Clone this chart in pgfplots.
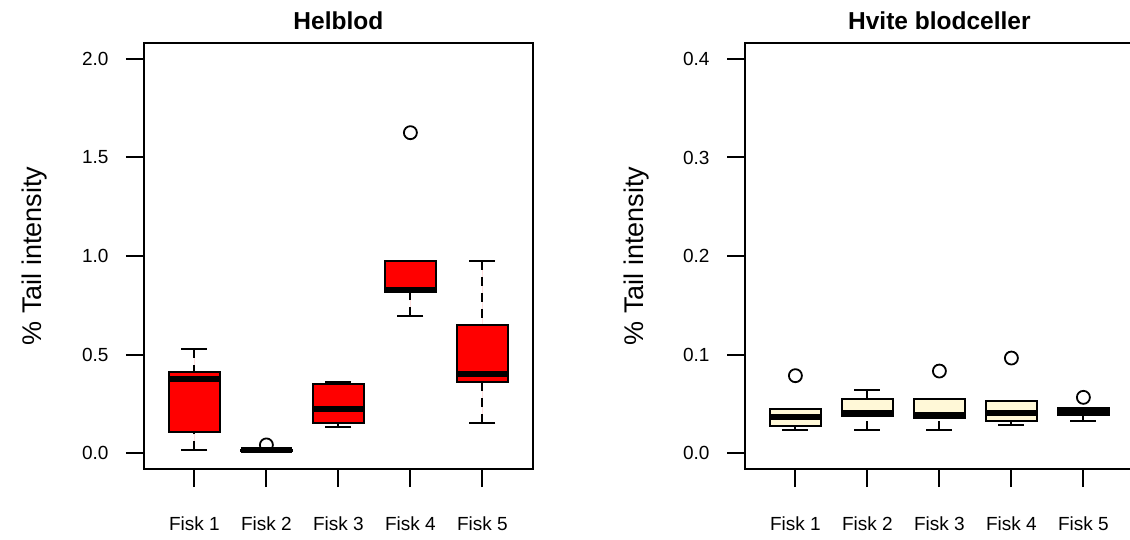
\documentclass[border=0pt]{standalone}
\usepackage{fontspec}
\setmainfont{Liberation Sans}
\usepackage{pgfplots}
\pgfplotsset{compat=1.18}
\usepgfplotslibrary{statistics}

\definecolor{boxred}{RGB}{255,0,0}
\definecolor{boxcream}{RGB}{255,248,215}

\pgfplotsset{
  rbox/.style={
    scale only axis,
    width=388.8pt, height=426pt,
    xmin=0.3, xmax=5.7,
    axis line style={line width=2pt},
    every tick/.style={black, line width=2pt},
    tick align=outside,
    major tick length=18pt,
    xtick={1,2,3,4,5},
    xticklabels={Fisk 1,Fisk 2,Fisk 3,Fisk 4,Fisk 5},
    xtick pos=bottom, ytick pos=left,
    /pgf/number format/assume math mode=true,
    /pgf/number format/.cd, fixed, fixed zerofill, precision=1, /pgfplots/.cd,
    tick label style={font=\fontsize{19}{22}\selectfont},
    xticklabel style={anchor=base, yshift=-43pt},
    yticklabel style={anchor=east, xshift=-14pt},
    every axis y label/.style={at={(rel axis cs:0,0.5)}, xshift=-102pt, rotate=90, anchor=base,
      font=\fontsize{27}{30}\selectfont},
    ylabel={\% Tail intensity},
    every axis title/.style={at={(rel axis cs:0.5,1)}, anchor=base, yshift=13pt,
      font=\fontsize{24.5}{28}\selectfont\bfseries},
    boxplot/draw direction=y,
    boxplot/box extend=0.7,
    boxplot/whisker extend=0.36,
    boxplot/every box/.style={line width=2pt},
    boxplot/every median/.style={line width=6pt},
    boxplot/draw/lower whisker/.code={%
      \draw[line width=2pt, dash pattern=on 9pt off 7pt]
        (boxplot box cs:\pgfplotsboxplotvalue{lower whisker},0.5) --
        (boxplot box cs:\pgfplotsboxplotvalue{lower quartile},0.5);
      \draw[line width=2pt, solid]
        (boxplot whisker cs:\pgfplotsboxplotvalue{lower whisker},0) --
        (boxplot whisker cs:\pgfplotsboxplotvalue{lower whisker},1);
    },
    boxplot/draw/upper whisker/.code={%
      \draw[line width=2pt, dash pattern=on 9pt off 7pt]
        (boxplot box cs:\pgfplotsboxplotvalue{upper whisker},0.5) --
        (boxplot box cs:\pgfplotsboxplotvalue{upper quartile},0.5);
      \draw[line width=2pt, solid]
        (boxplot whisker cs:\pgfplotsboxplotvalue{upper whisker},0) --
        (boxplot whisker cs:\pgfplotsboxplotvalue{upper whisker},1);
    },
  },
  bx/.style={draw=black, line width=2pt, mark=o, mark size=6.5pt,
    mark options={solid, draw=black, fill=none, line width=1.8pt}},
}

\begin{document}
\begin{tikzpicture}
\useasboundingbox (0pt,0pt) rectangle (1130pt,539pt);

% Whole blood
\begin{axis}[rbox, at={(144pt,70pt)}, anchor=south west,
  title={Helblod}, ymin=-0.0812, ymax=2.0812, ytick={0,0.5,1,1.5,2}]
\addplot[bx, fill=boxred, boxplot prepared={draw position=1,
  lower whisker=0.013, lower quartile=0.108, median=0.374,
  upper quartile=0.413, upper whisker=0.528}] coordinates {};
\addplot[bx, fill=boxred, boxplot prepared={draw position=2,
  lower whisker=0.008, lower quartile=0.010, median=0.013,
  upper quartile=0.017, upper whisker=0.020}] coordinates {(0,0.041)};
\addplot[bx, fill=boxred, boxplot prepared={draw position=3,
  lower whisker=0.130, lower quartile=0.152, median=0.225,
  upper quartile=0.352, upper whisker=0.362}] coordinates {};
\addplot[bx, fill=boxred, boxplot prepared={draw position=4,
  lower whisker=0.695, lower quartile=0.816, median=0.827,
  upper quartile=0.975, upper whisker=0.975}] coordinates {(0,1.626)};
\addplot[bx, fill=boxred, boxplot prepared={draw position=5,
  lower whisker=0.152, lower quartile=0.362, median=0.401,
  upper quartile=0.650, upper whisker=0.975}] coordinates {};
\end{axis}

% White blood cells
\begin{axis}[rbox, at={(745pt,70pt)}, anchor=south west,
  title={Hvite blodceller}, ymin=-0.01624, ymax=0.41624, ytick={0,0.1,0.2,0.3,0.4}]
\addplot[bx, fill=boxcream, boxplot prepared={draw position=1,
  lower whisker=0.0237, lower quartile=0.0277, median=0.0362,
  upper quartile=0.0447, upper whisker=0.0447}] coordinates {(0,0.0785)};
\addplot[bx, fill=boxcream, boxplot prepared={draw position=2,
  lower whisker=0.0230, lower quartile=0.0376, median=0.0403,
  upper quartile=0.0551, upper whisker=0.0636}] coordinates {};
\addplot[bx, fill=boxcream, boxplot prepared={draw position=3,
  lower whisker=0.0230, lower quartile=0.0359, median=0.0383,
  upper quartile=0.0545, upper whisker=0.0545}] coordinates {(0,0.0832)};
\addplot[bx, fill=boxcream, boxplot prepared={draw position=4,
  lower whisker=0.0284, lower quartile=0.0328, median=0.0403,
  upper quartile=0.0531, upper whisker=0.0531}] coordinates {(0,0.0964)};
\addplot[bx, fill=boxcream, boxplot prepared={draw position=5,
  lower whisker=0.0328, lower quartile=0.0389, median=0.0416,
  upper quartile=0.0457, upper whisker=0.0457}] coordinates {(0,0.0565)};
\end{axis}
\end{tikzpicture}
\end{document}
